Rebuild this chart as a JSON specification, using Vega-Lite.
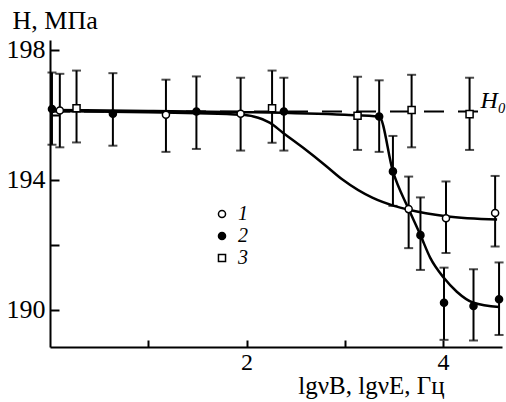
{
  "$schema": "https://vega.github.io/schema/vega-lite/v6.json",
  "width": 452,
  "height": 307,
  "autosize": {"type": "none"},
  "padding": {"left": 50, "top": 40, "right": 4, "bottom": 55},
  "background": "white",
  "config": {"view": {"stroke": null}, "font": "Liberation Serif",
    "axis": {"labelFont": "Liberation Serif", "titleFont": "Liberation Serif"},
    "legend": {"labelFont": "Liberation Serif"},
    "text": {"font": "Liberation Serif"}},
  "datasets": {
    "h0": [{"x": 0, "y": 196.1}, {"x": 4.38, "y": 196.1}],
    "curves": [
      {"c": "a", "x": 0, "y": 196.12}, {"c": "a", "x": 1, "y": 196.08}, {"c": "a", "x": 1.5, "y": 196.05},
      {"c": "a", "x": 1.94, "y": 196.0}, {"c": "a", "x": 2.07, "y": 195.95}, {"c": "a", "x": 2.24, "y": 195.75},
      {"c": "a", "x": 2.37, "y": 195.45}, {"c": "a", "x": 2.57, "y": 195.0}, {"c": "a", "x": 2.8, "y": 194.45},
      {"c": "a", "x": 2.98, "y": 194.0}, {"c": "a", "x": 3.28, "y": 193.45}, {"c": "a", "x": 3.5, "y": 193.2},
      {"c": "a", "x": 3.65, "y": 193.08}, {"c": "a", "x": 4.03, "y": 192.88}, {"c": "a", "x": 4.55, "y": 192.78},
      {"c": "b", "x": 0, "y": 196.15}, {"c": "b", "x": 1, "y": 196.12}, {"c": "b", "x": 2, "y": 196.08},
      {"c": "b", "x": 3, "y": 196.0}, {"c": "b", "x": 3.35, "y": 195.95}, {"c": "b", "x": 3.49, "y": 194.26},
      {"c": "b", "x": 3.65, "y": 193.1}, {"c": "b", "x": 3.77, "y": 192.3}, {"c": "b", "x": 3.87, "y": 191.6},
      {"c": "b", "x": 4.01, "y": 190.98}, {"c": "b", "x": 4.14, "y": 190.56}, {"c": "b", "x": 4.31, "y": 190.22},
      {"c": "b", "x": 4.57, "y": 190.09}
    ],
    "pts": [
      {"s": "2", "x": 0.02, "y": 196.18, "lo": 195.08, "hi": 197.3},
      {"s": "1", "x": 0.1, "y": 196.13, "lo": 195.0, "hi": 197.26},
      {"s": "3", "x": 0.27, "y": 196.2, "lo": 195.15, "hi": 197.36},
      {"s": "2", "x": 0.64, "y": 196.03, "lo": 195.05, "hi": 197.28},
      {"s": "1", "x": 1.18, "y": 196.0, "lo": 194.86, "hi": 197.08},
      {"s": "2", "x": 1.49, "y": 196.1, "lo": 194.95, "hi": 197.18},
      {"s": "1", "x": 1.94, "y": 196.03, "lo": 194.9, "hi": 197.14},
      {"s": "3", "x": 2.26, "y": 196.2, "lo": 195.14, "hi": 197.36},
      {"s": "2", "x": 2.38, "y": 196.1, "lo": 194.9, "hi": 197.14},
      {"s": "3", "x": 3.13, "y": 195.97, "lo": 194.92, "hi": 197.17},
      {"s": "2", "x": 3.35, "y": 195.95, "lo": 194.86, "hi": 197.06},
      {"s": "2", "x": 3.49, "y": 194.26, "lo": 193.2, "hi": 195.35},
      {"s": "1", "x": 3.65, "y": 193.1, "lo": 191.9, "hi": 194.1},
      {"s": "3", "x": 3.68, "y": 196.15, "lo": 195.0, "hi": 197.23},
      {"s": "2", "x": 3.77, "y": 192.3, "lo": 191.23, "hi": 193.46},
      {"s": "1", "x": 4.03, "y": 192.82, "lo": 191.75, "hi": 193.95},
      {"s": "2", "x": 4.01, "y": 190.22, "lo": 189.08, "hi": 191.3},
      {"s": "3", "x": 4.27, "y": 196.02, "lo": 194.92, "hi": 197.14},
      {"s": "2", "x": 4.31, "y": 190.12, "lo": 189.06, "hi": 191.25},
      {"s": "1", "x": 4.53, "y": 192.98, "lo": 191.95, "hi": 194.12},
      {"s": "2", "x": 4.57, "y": 190.33, "lo": 189.23, "hi": 191.46}
    ],
    "lbl": [{"x": 4.38, "y": 196.22, "t": "H₀"}]
  },
  "layer": [
    {
      "data": {"name": "h0"},
      "mark": {"type": "line", "strokeDash": [20, 14], "strokeWidth": 2, "color": "black"},
      "encoding": {
        "x": {"field": "x", "type": "quantitative",
          "scale": {"domain": [0, 4.6], "nice": false, "zero": false},
          "axis": {"values": [1, 2, 3, 4], "format": "d", "labelExpr": "datum.value % 2 == 1 ? '' : datum.label",
            "title": "lgνB, lgνE, Гц", "grid": false, "domainColor": "black", "domainWidth": 2,
            "tickColor": "black", "tickWidth": 2, "tickSize": -7, "labelPadding": 10,
            "labelFontSize": 24, "labelColor": "black",
            "titleFontSize": 25, "titleFontWeight": "normal", "titleColor": "black",
            "titleX": 321, "titleY": 46, "titleAlign": "center", "titleBaseline": "alphabetic"}},
        "y": {"field": "y", "type": "quantitative",
          "scale": {"domain": [188.86, 198.3], "nice": false, "zero": false},
          "axis": {"values": [190, 192, 194, 196, 198], "format": "d", "labelExpr": "datum.value % 4 == 0 ? '' : datum.label",
            "title": "H, МПа", "grid": false, "domainColor": "black", "domainWidth": 2,
            "tickColor": "black", "tickWidth": 2, "tickSize": -9, "labelPadding": 14,
            "labelFontSize": 26, "labelColor": "black",
            "titleFontSize": 26, "titleFontWeight": "normal", "titleColor": "black",
            "titleAngle": 0, "titleX": -38, "titleY": -12, "titleAlign": "left", "titleBaseline": "alphabetic"}}
      }
    },
    {
      "data": {"name": "curves"},
      "mark": {"type": "line", "interpolate": "monotone", "strokeWidth": 2.5, "color": "black"},
      "encoding": {
        "x": {"field": "x", "type": "quantitative"},
        "y": {"field": "y", "type": "quantitative"},
        "detail": {"field": "c"}
      }
    },
    {
      "data": {"name": "pts"},
      "mark": {"type": "rule", "strokeWidth": 2, "color": "black"},
      "encoding": {
        "x": {"field": "x", "type": "quantitative"},
        "y": {"field": "lo", "type": "quantitative"},
        "y2": {"field": "hi"}
      }
    },
    {
      "data": {"name": "pts"},
      "mark": {"type": "tick", "orient": "horizontal", "size": 9, "thickness": 2, "color": "black"},
      "encoding": {
        "x": {"field": "x", "type": "quantitative"},
        "y": {"field": "lo", "type": "quantitative"}
      }
    },
    {
      "data": {"name": "pts"},
      "mark": {"type": "tick", "orient": "horizontal", "size": 9, "thickness": 2, "color": "black"},
      "encoding": {
        "x": {"field": "x", "type": "quantitative"},
        "y": {"field": "hi", "type": "quantitative"}
      }
    },
    {
      "data": {"name": "pts"},
      "mark": {"type": "point", "stroke": "black", "strokeWidth": 1.5, "opacity": 1, "size": 50},
      "encoding": {
        "x": {"field": "x", "type": "quantitative"},
        "y": {"field": "y", "type": "quantitative"},
        "shape": {"field": "s", "type": "nominal",
          "scale": {"domain": ["1", "2", "3"], "range": ["circle", "circle", "square"]},
          "legend": {"orient": "none", "legendX": 162, "legendY": 164, "title": null,
            "labelFontSize": 20, "labelFontStyle": "italic", "labelColor": "black",
            "symbolSize": 50, "rowPadding": 2, "padding": 0, "labelOffset": 6,
            "encode": {"symbols": {"update": {"stroke": {"value": "black"}, "strokeWidth": {"value": 1.5}}}}}},
        "fill": {"field": "s", "type": "nominal",
          "scale": {"domain": ["1", "2", "3"], "range": ["white", "black", "white"]},
          "legend": {"orient": "none", "legendX": 162, "legendY": 164, "title": null,
            "labelFontSize": 20, "labelFontStyle": "italic", "labelColor": "black",
            "symbolSize": 50, "rowPadding": 2, "padding": 0, "labelOffset": 6,
            "encode": {"symbols": {"update": {"stroke": {"value": "black"}, "strokeWidth": {"value": 1.5}}}}}}
      }
    },
    {
      "data": {"name": "lbl"},
      "mark": {"type": "text", "align": "left", "baseline": "alphabetic", "fontSize": 24, "fontStyle": "italic", "color": "black"},
      "encoding": {
        "x": {"field": "x", "type": "quantitative"},
        "y": {"field": "y", "type": "quantitative"},
        "text": {"field": "t"}
      }
    }
  ]
}
